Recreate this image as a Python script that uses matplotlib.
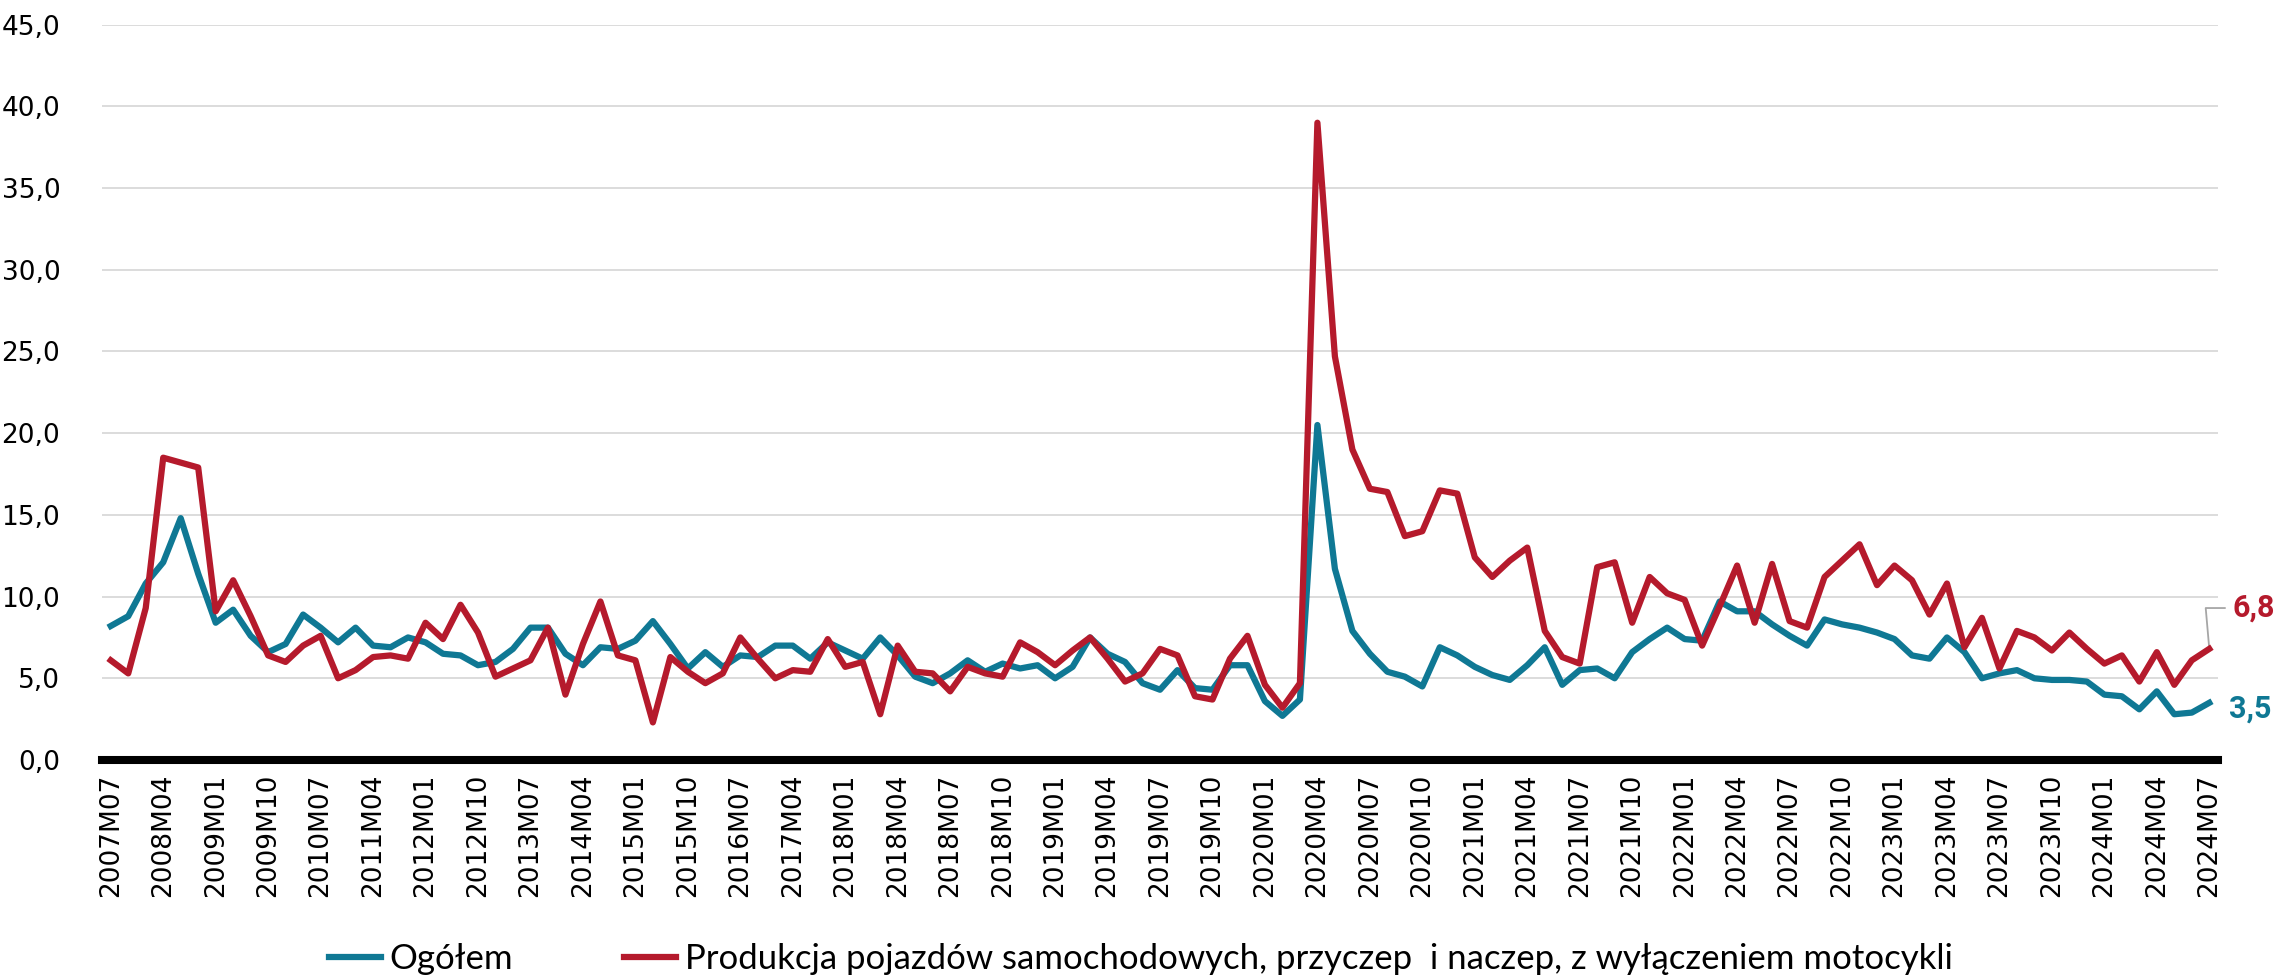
import numpy as np
import pandas as pd
import matplotlib
matplotlib.use('Agg')
import matplotlib.pyplot as plt
from matplotlib.ticker import FuncFormatter

# okresy: kwartalnie do 2018M01, dalej miesiecznie
kwartaly = [f'{r}M{m:02d}' for r in range(2007, 2018) for m in (1, 4, 7, 10)][2:] + ['2018M01']
miesiace = [f'{r}M{m:02d}' for r in range(2018, 2025) for m in range(1, 13)][1:79]
okresy = kwartaly + miesiace

ogolem = [8.2, 8.8, 10.8, 12.1, 14.8, 11.4, 8.4, 9.2, 7.6, 6.6,
          7.1, 8.9, 8.1, 7.2, 8.1, 7.0, 6.9, 7.5, 7.2, 6.5,
          6.4, 5.8, 6.0, 6.8, 8.1, 8.1, 6.5, 5.8, 6.9, 6.8,
          7.3, 8.5, 7.1, 5.6, 6.6, 5.7, 6.4, 6.3, 7.0, 7.0,
          6.2, 7.2, 6.7, 6.2, 7.5, 6.4, 5.1, 4.7, 5.3, 6.1,
          5.4, 5.9, 5.6, 5.8, 5.0, 5.7, 7.5, 6.5, 6.0, 4.7,
          4.3, 5.5, 4.4, 4.3, 5.8, 5.8, 3.6, 2.7, 3.7, 20.5,
          11.7, 7.9, 6.5, 5.4, 5.1, 4.5, 6.9, 6.4, 5.7, 5.2,
          4.9, 5.8, 6.9, 4.6, 5.5, 5.6, 5.0, 6.6, 7.4, 8.1,
          7.4, 7.3, 9.7, 9.1, 9.1, 8.3, 7.6, 7.0, 8.6, 8.3,
          8.1, 7.8, 7.4, 6.4, 6.2, 7.5, 6.6, 5.0, 5.3, 5.5,
          5.0, 4.9, 4.9, 4.8, 4.0, 3.9, 3.1, 4.2, 2.8, 2.9,
          3.5]

pojazdy = [6.1, 5.3, 9.3, 18.5, 18.2, 17.9, 9.1, 11.0, 8.8, 6.4,
           6.0, 7.0, 7.6, 5.0, 5.5, 6.3, 6.4, 6.2, 8.4, 7.4,
           9.5, 7.8, 5.1, 5.6, 6.1, 8.1, 4.0, 7.1, 9.7, 6.4,
           6.1, 2.3, 6.3, 5.4, 4.7, 5.3, 7.5, 6.2, 5.0, 5.5,
           5.4, 7.4, 5.7, 6.0, 2.8, 7.0, 5.4, 5.3, 4.2, 5.7,
           5.3, 5.1, 7.2, 6.6, 5.8, 6.7, 7.5, 6.2, 4.8, 5.3,
           6.8, 6.4, 3.9, 3.7, 6.2, 7.6, 4.6, 3.2, 4.7, 39.0,
           24.7, 19.0, 16.6, 16.4, 13.7, 14.0, 16.5, 16.3, 12.4, 11.2,
           12.2, 13.0, 7.9, 6.3, 5.9, 11.8, 12.1, 8.4, 11.2, 10.2,
           9.8, 7.0, 9.4, 11.9, 8.4, 12.0, 8.5, 8.1, 11.2, 12.2,
           13.2, 10.7, 11.9, 11.0, 8.9, 10.8, 6.9, 8.7, 5.6, 7.9,
           7.5, 6.7, 7.8, 6.8, 5.9, 6.4, 4.8, 6.6, 4.6, 6.1,
           6.8]

TEAL = '#0F7894'
RED = '#B51A2C'
NARROW = ['Lato', 'DejaVu Sans']
BOLD = ['Roboto', 'DejaVu Sans']

fig = plt.figure(figsize=(22.77, 9.8), dpi=100)
ax = fig.add_axes([0.0448, 0.2245, 0.9293, 0.7503])

x = np.arange(len(okresy))
ax.plot(x, ogolem, color=TEAL, lw=4.5, solid_joinstyle='round', zorder=3, label='Ogółem')
ax.plot(x, pojazdy, color=RED, lw=4.5, solid_joinstyle='round', zorder=4,
        label='Produkcja pojazdów samochodowych, przyczep  i naczep, z wyłączeniem motocykli')

ax.set_xlim(-0.5, len(okresy) - 0.5)
ax.set_ylim(0, 45)
ax.set_yticks(np.arange(0, 46, 5))
ax.yaxis.set_major_formatter(FuncFormatter(lambda v, p: f'{v:.1f}'.replace('.', ',')))
ax.set_xticks(x[::3])
ax.set_xticklabels(okresy[::3], rotation=90, family='DejaVu Sans')
for lab in ax.get_yticklabels():
    lab.set_family('DejaVu Sans')
ax.tick_params(axis='both', length=0, labelsize=19)
ax.tick_params(axis='x', pad=10)
ax.tick_params(axis='y', pad=30)
ax.grid(axis='y', color='#D9D9D9', lw=1.3)
ax.set_axisbelow(True)
for s in ax.spines.values():
    s.set_visible(False)
ax.axhline(0, color='black', lw=5.8, zorder=5, clip_on=False)

# etykiety ostatnich wartosci
ax.annotate(f'{pojazdy[-1]:.1f}'.replace('.', ','), xy=(x[-1], pojazdy[-1]),
            xytext=(x[-1] + 1.3, pojazdy[-1] + 2.5), ha='left', va='center',
            fontsize=22, fontweight='bold', color=RED, family=BOLD,
            annotation_clip=False,
            arrowprops=dict(arrowstyle='-', color='#A6A6A6', lw=1.3, shrinkA=3, shrinkB=0,
                            relpos=(0, 0.5),
                            connectionstyle='angle,angleA=0,angleB=95,rad=0'))
ax.annotate(f'{ogolem[-1]:.1f}'.replace('.', ','), xy=(x[-1], ogolem[-1]),
            xytext=(14, -4), textcoords='offset points', ha='left', va='center',
            fontsize=22, fontweight='bold', color=TEAL, family=BOLD,
            annotation_clip=False)

fig.legend(loc='center', bbox_to_anchor=(0.501, 0.021), ncol=2, frameon=False,
           prop={'family': NARROW, 'size': 25}, handlelength=1.5,
           handletextpad=0.25, columnspacing=3.2)

plt.savefig('out.png', dpi=100)
plt.close(fig)
